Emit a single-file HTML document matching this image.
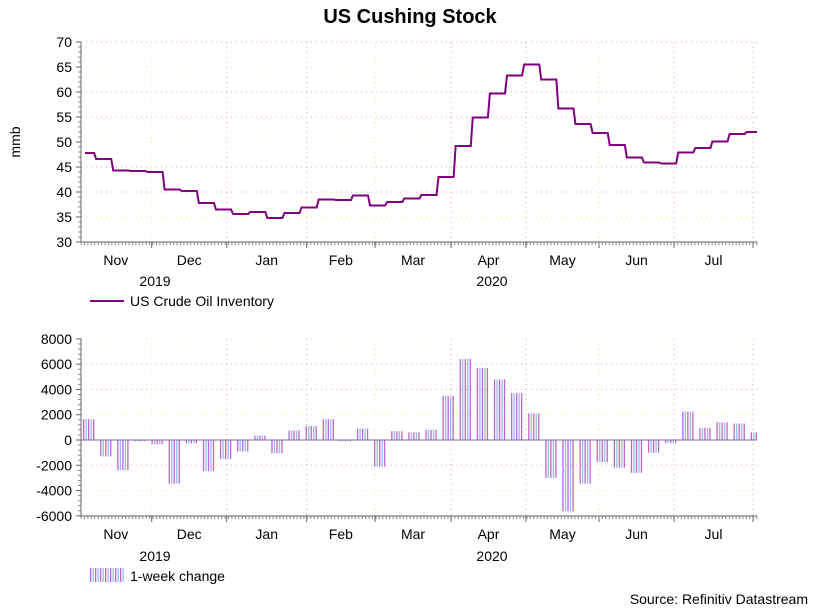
<!DOCTYPE html>
<html><head><meta charset="utf-8"><style>
body{margin:0;background:#fff;}
svg{display:block;font-family:"Liberation Sans",Arial,sans-serif;}
</style></head><body>
<svg id="c" width="814" height="608" viewBox="0 0 814 608">
<text x="410" y="23" text-anchor="middle" font-size="20" font-weight="bold">US Cushing Stock</text>
<text x="20" y="142" transform="rotate(-90 20 142)" text-anchor="middle" font-size="14">mmb</text>
<g id="topPlot"></g>
<g id="botPlot"></g>
<g>
<line x1="90" y1="301" x2="124" y2="301" stroke="#800080" stroke-width="2"/>
<text x="130" y="306" font-size="14">US Crude Oil Inventory</text></g>
<g>
<g id="legbars"></g>
<text x="130" y="581" font-size="14">1-week change</text></g>
<text x="808" y="604" text-anchor="end" font-size="14">Source: Refinitiv Datastream</text>
</svg>
<script>
const weeks = [0,1,2,3,4,5,6,7,8,9,10,11,12,13,14,15,16,17,18,19,20,21,22,23,24,25,26,27,28,29,30,31,32,33,34,35,36,37,38,39];
const inventory = [47.8,46.6,44.3,44.2,44.0,40.5,40.2,37.8,36.5,35.6,36.0,34.8,35.8,36.9,38.5,38.4,39.3,37.3,38.0,38.7,39.4,43.0,49.2,54.9,59.7,63.3,65.5,62.5,56.7,53.6,51.8,49.4,46.9,45.9,45.7,47.9,48.8,50.1,51.6,52.0];
const change = [1650,-1300,-2400,-100,-350,-3450,-250,-2450,-1500,-900,350,-1050,750,1100,1650,-100,900,-2100,700,600,800,3500,6400,5700,4800,3700,2100,-3000,-5650,-3450,-1750,-2200,-2600,-1000,-250,2250,950,1400,1300,600];
const topTicks = [30,35,40,45,50,55,60,65,70];
const botTicks = [-6000,-4000,-2000,0,2000,4000,6000,8000];
const months = ["Nov","Dec","Jan","Feb","Mar","Apr","May","Jun","Jul"];

(function(){
const monthStarts = [80,151.7,226.7,306.7,375,451,526,599,674,753];
const NS="http://www.w3.org/2000/svg";
const X0=81, X1=757;
function xw(i){return 78+i*17.12;}
function yTop(v){return 242-(v-30)*5;}
function yBot(v){return 440-v*0.012643;}
function mk(p,tag,a){const e=document.createElementNS(NS,tag);for(const k in a)e.setAttribute(k,a[k]);p.appendChild(e);return e;}
const gridCols=["#9c9","#ee9","#f9c"];

function frame(g,ticks,yf,yTopPx,yBotPx,monthY,yearY){
  ticks.forEach((t,k)=>{
    const y=yf(t);
    const gl=mk(g,'line',{x1:X0,y1:y,x2:X1,y2:y,stroke:gridCols[k%3],'stroke-dasharray':'1,4'});
    
    
    mk(g,'line',{x1:X0-5,y1:y,x2:X0,y2:y,stroke:'#666'});
    const tx=mk(g,'text',{x:X0-9,y:y+5,'text-anchor':'end','font-size':14});
    tx.textContent=String(t);
    
    
  });
  for(let k=0;k<ticks.length-1;k++){for(let m=1;m<5;m++){const y=yf(ticks[k])+(yf(ticks[k+1])-yf(ticks[k]))*m/5;mk(g,'line',{x1:X0-3,y1:y,x2:X0,y2:y,stroke:'#888'});}}
  monthStarts.slice(1).forEach((x,k)=>{
    const gl=mk(g,'line',{x1:x,y1:yTopPx,x2:x,y2:yBotPx,stroke:gridCols[(k+1)%3],'stroke-dasharray':'1,4'});
    
    
    mk(g,'line',{x1:x,y1:yBotPx,x2:x,y2:yBotPx+6,stroke:'#666'});
  });
  for(let x=X0;x<=X1;x+=3.43){mk(g,'line',{x1:x,y1:yBotPx,x2:x,y2:yBotPx+3,stroke:'#888'});}
  months.forEach((m,k)=>{
    const tx=mk(g,'text',{x:(monthStarts[k]+monthStarts[k+1])/2,y:monthY,'text-anchor':'middle','font-size':14});
    tx.textContent=m;
    
    
  });
  [["2019",155],["2020",492]].forEach(([t,x])=>{
    const tx=mk(g,'text',{x:x,y:yearY,'text-anchor':'middle','font-size':14});
    tx.textContent=t;
    
    
  });
  mk(g,'line',{x1:X0,y1:yTopPx,x2:X0,y2:yBotPx,stroke:'#666'});
  mk(g,'line',{x1:X0,y1:yBotPx,x2:X1,y2:yBotPx,stroke:'#666'});
}

const topG=document.getElementById('topPlot');
frame(topG,topTicks,yTop,42,242,265,286);
let d='';
weeks.forEach((w,i)=>{
  const xs=i===0?85:xw(w)+1, xe=i===weeks.length-1?X1:xw(w+1)-1;
  const y=yTop(inventory[i]);
  d+=(i===0?'M':'L')+xs+','+y+'L'+xe+','+y;
});
const ln=mk(topG,'path',{d:d,fill:'none',stroke:'#800080','stroke-width':2});



const botG=document.getElementById('botPlot');
frame(botG,botTicks,yBot,339,516,539,561);
weeks.forEach((w,i)=>{
  const g=mk(botG,'g',{});
  
  
  const y0=yBot(0), y1=yBot(change[i]);
  let c=0;
  for(let x=xw(w)+5;x<Math.min(xw(w)+17,X1);x+=2.5){
    mk(g,'rect',{x:x,y:Math.min(y0,y1),width:1.3,height:Math.abs(y1-y0),fill:c%2?'#99bbee':'#bb66cc'});c++;
  }
});
mk(botG,'line',{x1:X0,y1:yBot(0),x2:X1,y2:yBot(0),stroke:'#8866aa'});
const lb=document.getElementById('legbars');
for(let k=0;k<14;k++){mk(lb,'rect',{x:90+k*2.5,y:568,width:1.3,height:14,fill:k%2?'#99bbee':'#bb66cc'});}
})();
</script>
</body></html>
